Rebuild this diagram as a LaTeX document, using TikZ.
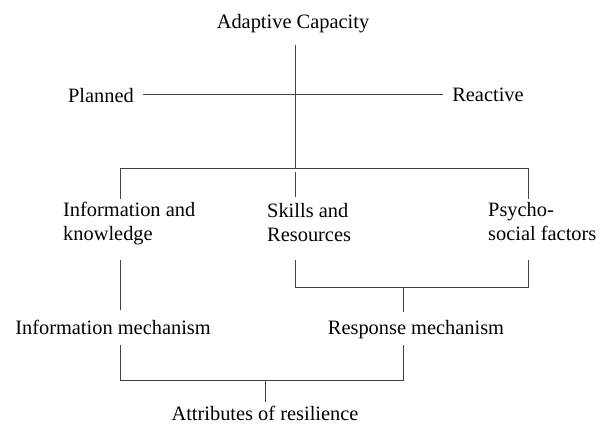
\documentclass[tikz,border=0pt]{standalone}
\usepackage{fontspec}
\setmainfont{Liberation Serif}
\begin{document}
\begin{tikzpicture}[x=1pt,y=-1pt,
  lbl/.style={inner sep=0pt,anchor=base,font=\fontsize{20.4}{24}\selectfont},
  lbl2/.style={inner sep=0pt,anchor=base west,align=left,font=\fontsize{20.4}{24}\selectfont},
  ln/.style={draw=black!75,line width=0.9pt}]
\useasboundingbox (0,0) rectangle (603,431);
% texts
\node[lbl] (ac) at (293,28) {Adaptive Capacity};
\node[lbl] (pl) at (101,102) {Planned};
\node[lbl] (re) at (488,101) {Reactive};
\node[lbl2] (ik) at (63,240) {Information and\\knowledge};
\node[lbl2] (sr) at (267,241) {Skills and\\Resources};
\node[lbl2] (ps) at (488,240) {Psycho-\\social factors};
\node[lbl] (im) at (113,334) {Information mechanism};
\node[lbl] (rm) at (416,334) {Response mechanism};
\node[lbl] (ar) at (265,420) {Attributes of resilience};
% junction coordinates
\coordinate (ctop) at (295,45);
\coordinate (cbar) at (295,168);
\coordinate (pe) at (143,94);
\coordinate (ree) at (443,94);
\coordinate (bl) at (120,168);
\coordinate (br) at (528,168);
\coordinate (bld) at (120,199);
\coordinate (bmd) at (295,197);
\coordinate (brd) at (528,199);
\coordinate (iku) at (120,260);
\coordinate (ikd) at (120,310);
\coordinate (sru) at (295,260);
\coordinate (psu) at (528,260);
\coordinate (bkl) at (295,287);
\coordinate (bkr) at (528,287);
\coordinate (bkm) at (403,287);
\coordinate (bkd) at (403,312);
\coordinate (imu) at (120,345);
\coordinate (rmu) at (403,345);
\coordinate (bbl) at (120,380);
\coordinate (bbr) at (403,380);
\coordinate (bbm) at (265,380);
\coordinate (bbd) at (265,402);
% lines
\draw[ln] (ctop) -- (cbar);
\draw[ln] (pe) -- (ree);
\draw[ln] (bl) -- (br);
\draw[ln] (bl) -- (bld);
\draw[ln] (cbar |- 0,172) -- (bmd);
\draw[ln] (br) -- (brd);
\draw[ln] (iku) -- (ikd);
\draw[ln] (sru) -- (bkl) -- (bkr) -- (psu);
\draw[ln] (bkm) -- (bkd);
\draw[ln] (imu) -- (bbl) -- (bbr) -- (rmu);
\draw[ln] (bbm) -- (bbd);
\end{tikzpicture}
\end{document}
